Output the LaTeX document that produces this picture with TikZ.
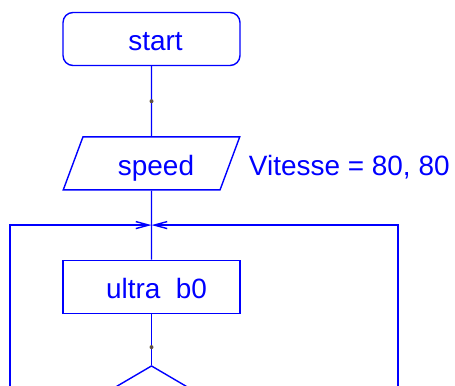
\documentclass[tikz,border=0pt]{standalone}
\usepackage{fontspec}
\setmainfont{Liberation Sans}
\usetikzlibrary{shapes.geometric,arrows.meta,positioning,calc}
\definecolor{fcblue}{RGB}{0,0,255}
\definecolor{fcdot}{RGB}{95,80,65}
\tikzset{
  chart/.style={draw=fcblue, line width=0.8pt, text=fcblue, inner sep=0pt,
    minimum width=3.54cm, minimum height=1.06cm,
    text height=0.48cm, text depth=0cm,
    font=\fontsize{15.9}{19}\selectfont},
  terminal/.style={chart, rectangle, rounded corners=0.2cm,
    execute at begin node={\hspace*{0.16cm}}},
  process/.style={chart, rectangle, execute at begin node={\hspace*{0.2cm}}},
  inout/.style={chart, trapezium, trapezium left angle=63,
    trapezium right angle=117, trapezium stretches=true,
    execute at begin node={\hspace*{0.18cm}}},
  test/.style={chart, diamond, minimum width=3.54cm, minimum height=2.08cm},
  note/.style={text=fcblue, inner sep=0pt, text height=0.48cm, text depth=0cm,
    font=\fontsize{15.9}{19}\selectfont, anchor=west}
}

\begin{document}
\begin{tikzpicture}[
    x=0.02cm, y=-0.02cm,
    flow/.style={draw=fcblue, line width=0.8pt},
    loopback/.style={flow, -{Straight Barb[length=0.26cm,width=0.14cm]}},
    dot/.style={circle, fill=fcdot, inner sep=0pt, minimum size=0.08cm}
]
  \clip (0,0) rectangle (455,385);

  % main column
  \node[terminal] (start) at (151.5,39) {start};
  \node[inout, below=1.4cm of start] (speed) {speed};
  \node[note, right=0.36cm of speed] (speedval) {Vitesse = 80, 80};
  \node[process, below=1.38cm of speed] (ultra) {ultra\ \ b0};
  \node[test, below=1.02cm of ultra] (cond) {};

  \coordinate (join) at ($(speed.south)!0.5!(ultra.north)$);
  \coordinate (lbot) at (10,400);
  \coordinate (rbot) at (398,400);

  \draw[flow] (start) -- node[dot, pos=0.5] {} (speed);
  \draw[flow] (speed) -- (join) -- (ultra);
  \draw[flow] (ultra) -- node[dot, pos=0.65] {} (cond);

  % loop back
  \draw[loopback] (lbot) |- (join);
  \draw[loopback] (rbot) |- (join);
\end{tikzpicture}
\end{document}
